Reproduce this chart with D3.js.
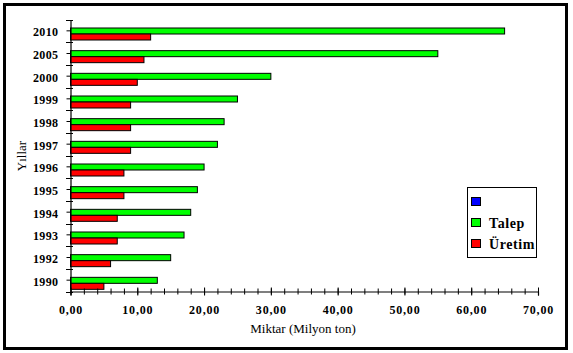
<!DOCTYPE html>
<html>
<head>
<meta charset="utf-8">
<script src="https://cdn.jsdelivr.net/npm/d3@7"></script>
<style>
  body { margin: 0; background: #fff; }
</style>
</head>
<body>
<div id="chart"></div>
<script>
// veriler
var years = ['2010', '2005', '2000', '1999', '1998', '1997', '1996', '1995', '1994', '1993', '1992', '1990'];
var seriesNames = ['', 'Talep', 'Üretim'];
var seriesColors = ['#0000ff', '#00ff00', '#ff0000'];
var bosSeri = [0, 0, 0, 0, 0, 0, 0, 0, 0, 0, 0, 0];
var talep = [65, 55, 30, 25, 23, 22, 20, 19, 18, 17, 15, 13];
var uretim = [12, 11, 10, 9, 9, 9, 8, 8, 7, 7, 6, 5];
var majorTicks = [0, 10, 20, 30, 40, 50, 60, 70];
var minorTicks = d3.range(0, 71, 2);

var width = 573, height = 353;
var serif = "'Liberation Serif', 'Times New Roman', serif";

var svg = d3.select('#chart')
    .append('svg')
    .attr('width', width)
    .attr('height', height)
    .attr('font-family', serif);

// dis cerceve
svg.append('rect')
    .attr('x', 4.5).attr('y', 4.5)
    .attr('width', 562).attr('height', 344)
    .attr('fill', '#fff')
    .attr('stroke', '#000')
    .attr('stroke-width', 3);

var x = d3.scaleLinear().domain([0, 70]).range([70.5, 538]);
var y = d3.scaleBand().domain(years).range([19.5, 291.5]);
var sub = d3.scaleBand().domain(seriesNames).range([0, y.bandwidth()]).paddingOuter(0.4);

var rows = years.map(function (yr, i) {
    return { year: yr, values: [bosSeri[i], talep[i], uretim[i]] };
});

// cubuklar
var groups = svg.selectAll('.row')
    .data(rows)
    .enter().append('g')
    .attr('class', 'row')
    .attr('transform', function (d) { return 'translate(0,' + y(d.year) + ')'; });

groups.selectAll('rect')
    .data(function (d) {
        return d.values.map(function (v, j) { return { name: seriesNames[j], value: v, color: seriesColors[j] }; });
    })
    .enter().filter(function (d) { return d.value > 0; })
    .append('rect')
    .attr('x', x(0))
    .attr('y', function (d) { return Math.round(sub(d.name)) + 0.5; })
    .attr('width', function (d) { return x(d.value) - x(0); })
    .attr('height', Math.round(sub.bandwidth()))
    .attr('fill', function (d) { return d.color; })
    .attr('stroke', '#000')
    .attr('stroke-width', 1);

// x ekseni
var xAxis = svg.append('g')
    .attr('transform', 'translate(0,291.5)')
    .call(d3.axisBottom(x).tickValues(majorTicks).tickSize(4)
        .tickFormat(function (d) { return d.toFixed(2).replace('.', ','); }));
xAxis.attr('font-family', serif).attr('font-size', 12).attr('font-weight', 'bold');
xAxis.select('.domain').attr('stroke', '#000').attr('stroke-width', 1.2);
xAxis.selectAll('.tick line').attr('y1', -4).attr('y2', 4).attr('stroke', '#000');
xAxis.selectAll('.tick text')
    .attr('y', 16)
    .attr('dy', '0.5em')
    .attr('fill', '#000')
    .style('letter-spacing', '0.8px');

var xMinor = svg.append('g')
    .attr('transform', 'translate(0,291.5)')
    .call(d3.axisBottom(x).tickValues(minorTicks).tickSize(3).tickFormat(''));
xMinor.select('.domain').remove();
xMinor.selectAll('.tick line').attr('y1', -3).attr('y2', 3).attr('stroke', '#000');

// y ekseni
var yAxis = svg.append('g')
    .attr('transform', 'translate(70.5,0)')
    .call(d3.axisLeft(y).tickSize(4).tickSizeOuter(0));
yAxis.attr('font-family', serif).attr('font-size', 12).attr('font-weight', 'bold');
yAxis.select('.domain').attr('stroke', '#000').attr('stroke-width', 1.2);
yAxis.selectAll('.tick line').attr('stroke', '#000');
yAxis.selectAll('.tick text')
    .attr('x', -12)
    .attr('dy', '0.45em')
    .attr('fill', '#000')
    .style('letter-spacing', '0.4px');

// kategori sinir cizgileri
var bounds = years.map(function (yr) { return y(yr); }).concat([y.range()[1]]);
svg.selectAll('.bound')
    .data(bounds)
    .enter().append('line')
    .attr('class', 'bound')
    .attr('x1', 66).attr('x2', 73)
    .attr('y1', function (d) { return Math.round(d) + 0.5; })
    .attr('y2', function (d) { return Math.round(d) + 0.5; })
    .attr('stroke', '#000');

// eksen basliklari
svg.append('text')
    .attr('x', 303).attr('y', 333)
    .attr('text-anchor', 'middle')
    .attr('font-size', 13)
    .text('Miktar (Milyon ton)');

svg.append('text')
    .attr('transform', 'translate(26,156) rotate(-90)')
    .attr('text-anchor', 'middle')
    .attr('font-size', 13)
    .text('Yıllar');

// lejant
var legend = svg.append('g');
legend.append('rect')
    .attr('x', 467.5).attr('y', 187.5)
    .attr('width', 69).attr('height', 70)
    .attr('fill', '#fff').attr('stroke', '#000');

var items = legend.selectAll('.item')
    .data(seriesNames)
    .enter().append('g')
    .attr('class', 'item')
    .attr('transform', function (d, i) { return 'translate(471,' + (197 + i * 21) + ')'; });

items.append('rect')
    .attr('x', 0.5).attr('y', 0.5)
    .attr('width', 9).attr('height', 8)
    .attr('fill', function (d, i) { return seriesColors[i]; })
    .attr('stroke', '#000');

items.append('text')
    .attr('x', 18).attr('y', 9.5)
    .attr('font-size', 14)
    .attr('font-weight', 'bold')
    .style('letter-spacing', '0.6px')
    .text(function (d) { return d; });
</script>
</body>
</html>
